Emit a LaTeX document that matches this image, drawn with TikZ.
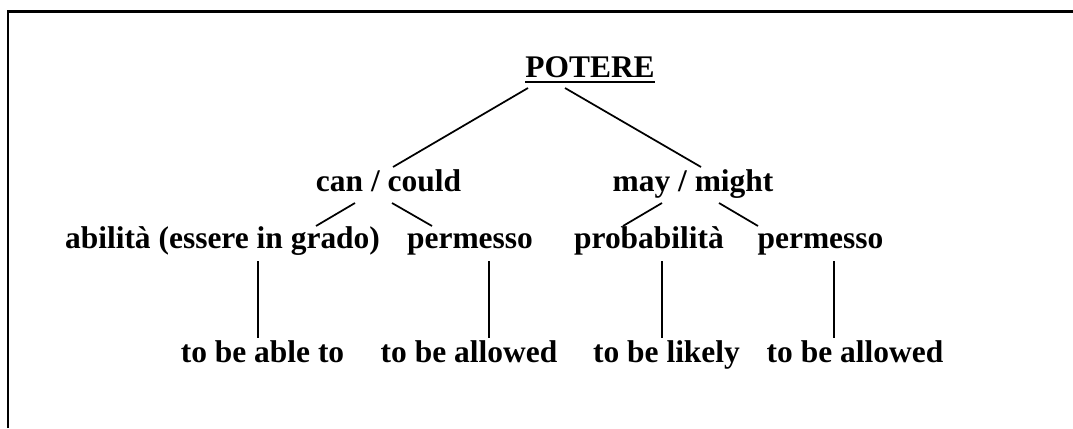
\documentclass[tikz,border=0pt]{standalone}
\usepackage{fontspec}
\setmainfont{Liberation Serif}
\begin{document}
\begin{tikzpicture}[x=0.75pt,y=-0.75pt,
  lbl/.style={inner sep=0pt,anchor=base,font=\fontsize{23.6}{28}\selectfont\bfseries},
  link/.style={line width=1.3pt},
  frame/.style={line width=1.8pt}]
\useasboundingbox (0,0) rectangle (1073,428);
% frame (top and left edges only)
\coordinate (fbl) at (8,428);
\coordinate (ftl) at (8,11.5);
\coordinate (ftr) at (1073,11.5);
\draw[frame] (fbl) -- (ftl) -- (ftr);
% nodes
\node[lbl] (potere) at (590,77) {POTERE};
\draw[line width=1.5pt] ([yshift=-4pt]potere.base west) -- ([yshift=-4pt]potere.base east);
\node[lbl] (can) at (388.5,191) {can / could};
\node[lbl] (may) at (693,191) {may / might};
\node[lbl] (abil) at (222.5,248) {abilità (essere in grado)};
\node[lbl] (perm1) at (470,248) {permesso};
\node[lbl] (prob) at (649,248) {probabilità};
\node[lbl] (perm2) at (820.5,248) {permesso};
\node[lbl] (able) at (262.5,362) {to be able to};
\node[lbl] (allow1) at (469,362) {to be allowed};
\node[lbl] (likely) at (666.5,362) {to be likely};
\node[lbl] (allow2) at (855,362) {to be allowed};
% connector end points
\coordinate (p1) at (528,88);  \coordinate (c1) at (393,167);
\coordinate (p2) at (565,88);  \coordinate (m1) at (701,167);
\coordinate (c2) at (355,203); \coordinate (a1) at (316,226);
\coordinate (c3) at (392,203); \coordinate (e1) at (432,226);
\coordinate (m2) at (662,203); \coordinate (b1) at (623,226);
\coordinate (m3) at (719,203); \coordinate (e2) at (758,226);
\coordinate (a2) at (258,261); \coordinate (t1) at (258,338);
\coordinate (e3) at (489,261); \coordinate (t2) at (489,338);
\coordinate (b2) at (662,261); \coordinate (t3) at (662,338);
\coordinate (e4) at (834,261); \coordinate (t4) at (834,338);
% connectors
\draw[link] (p1) -- (c1);
\draw[link] (p2) -- (m1);
\draw[link] (c2) -- (a1);
\draw[link] (c3) -- (e1);
\draw[link] (m2) -- (b1);
\draw[link] (m3) -- (e2);
\draw[link] (a2) -- (t1);
\draw[link] (e3) -- (t2);
\draw[link] (b2) -- (t3);
\draw[link] (e4) -- (t4);
\end{tikzpicture}
\end{document}
